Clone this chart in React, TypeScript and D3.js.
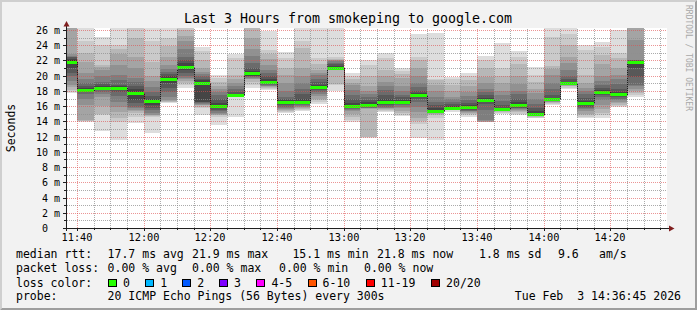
import React from "react";
import * as d3 from "d3";

const W = 697;
const H = 310;

const chartTitle = "Last 3 Hours from smokeping to google.com";
const yAxisLabel = "Seconds";
const watermark = "RRDTOOL / TOBI OETIKER";
const startTime = "11:37";
const endTime = "14:37";

const barEndTimes = [
  "11:40", "11:45", "11:50", "11:55", "12:00", "12:05", "12:10", "12:15", "12:20", "12:25",
  "12:30", "12:35", "12:40", "12:45", "12:50", "12:55", "13:00", "13:05", "13:10", "13:15",
  "13:20", "13:25", "13:30", "13:35", "13:40", "13:45", "13:50", "13:55", "14:00", "14:05",
  "14:10", "14:15", "14:20", "14:25", "14:30",
];

const medianRtt = [
  21.84, 18.12, 18.38, 18.38, 17.73, 16.68, 19.57, 21.14, 19.04, 16.06,
  17.46, 20.35, 19.21, 16.55, 16.6, 18.51, 21.05, 16.06, 16.15, 16.55,
  16.55, 17.46, 15.32, 15.81, 15.85, 16.85, 15.63, 16.15, 15.02, 16.94,
  19.04, 16.41, 17.9, 17.64, 21.84,
];

// 20 sorted ping times (ms) for each 5-minute step
const pingSamples = [
  [17.7, 17.9, 18.1, 18.5, 18.8, 19.3, 19.9, 20.3, 21.0, 21.7, 22.0, 22.2, 22.4, 22.5, 22.6, 22.8, 27, 28, 29, 30],
  [13.95, 14.0, 14.05, 14.2, 16.1, 16.9, 17.6, 17.85, 17.95, 18.05, 18.2, 18.35, 18.6, 19.0, 19.6, 20.4, 21.8, 23.0, 24.5, 27],
  [12.75, 14.8, 15.0, 16.0, 17.2, 17.6, 17.9, 18.1, 18.25, 18.33, 18.43, 18.6, 18.9, 19.2, 20.0, 20.8, 21.2, 21.4, 24.0, 25.1],
  [11.55, 13.95, 14.5, 15.2, 15.9, 16.6, 17.3, 17.9, 18.1, 18.3, 18.45, 18.6, 18.8, 19.4, 20.1, 21.4, 22.9, 23.5, 24.0, 26.5],
  [13.74, 14.6, 15.05, 15.3, 15.5, 15.7, 15.9, 16.4, 16.8, 17.6, 17.85, 18.3, 18.7, 19.2, 19.65, 21.0, 22.5, 24.9, 26.4, 27],
  [12.43, 14.6, 14.7, 14.8, 14.9, 15.1, 15.5, 15.8, 16.2, 16.6, 16.75, 17.0, 17.3, 17.9, 18.5, 19.3, 19.9, 21.8, 24.5, 26.5],
  [16.4, 16.5, 16.6, 16.7, 16.8, 17.2, 17.8, 18.4, 19.0, 19.5, 19.65, 19.9, 20.2, 20.5, 20.9, 21.4, 22.5, 23.9, 25.0, 26.3],
  [18.34, 18.8, 19.0, 19.3, 19.5, 19.65, 20.0, 20.4, 20.8, 21.0, 21.25, 21.6, 22.0, 22.5, 23.5, 24.5, 25.2, 26.0, 26.5, 27.5],
  [14.84, 15.7, 15.9, 16.1, 16.2, 16.3, 16.4, 16.5, 16.6, 18.95, 19.13, 19.4, 19.6, 19.9, 20.2, 20.5, 21.0, 22.0, 23.2, 23.7],
  [13.52, 14.6, 14.8, 14.9, 15.0, 15.1, 15.3, 15.5, 15.8, 16.0, 16.12, 16.4, 17.0, 17.5, 17.9, 18.2, 18.7, 19.2, 19.7, 20.1],
  [14.62, 17.3, 17.35, 17.38, 17.4, 17.42, 17.43, 17.44, 17.45, 17.45, 17.47, 17.6, 17.9, 18.3, 18.6, 19.0, 19.5, 20.1, 22.3, 22.8],
  [18.34, 18.8, 19.2, 19.5, 19.6, 19.7, 19.8, 19.9, 20.0, 20.25, 20.45, 20.6, 21.0, 21.6, 22.6, 23.5, 24.9, 26.3, 26.6, 27],
  [18.1, 18.3, 18.4, 18.5, 18.6, 18.7, 18.8, 18.9, 19.0, 19.15, 19.27, 19.6, 19.9, 20.3, 20.8, 21.4, 22.2, 22.9, 23.4, 25.9],
  [15.06, 15.2, 15.3, 15.5, 15.6, 15.7, 15.9, 16.1, 16.3, 16.5, 16.6, 16.8, 17.0, 17.25, 18.0, 19.0, 20.1, 21.0, 22.3, 23.15],
  [15.4, 15.5, 15.6, 15.8, 15.9, 16.0, 16.2, 16.3, 16.4, 16.55, 16.65, 17.0, 17.6, 18.2, 19.0, 19.9, 21.0, 23.6, 24.6, 27],
  [16.3, 16.6, 16.8, 17.0, 17.3, 17.6, 17.9, 18.1, 18.3, 18.45, 18.57, 18.8, 19.2, 19.6, 20.1, 20.4, 20.75, 21.5, 22.3, 26.3],
  [17.95, 18.8, 18.85, 20.8, 20.85, 20.9, 20.93, 20.96, 20.98, 21.0, 21.1, 21.3, 21.5, 21.7, 21.9, 22.0, 22.1, 22.2, 22.4, 26.3],
  [13.96, 14.2, 14.6, 15.0, 15.3, 15.5, 15.6, 15.7, 15.8, 16.0, 16.12, 16.4, 16.9, 17.5, 18.1, 18.8, 19.0, 19.5, 19.9, 20.3],
  [11.85, 11.95, 12.0, 15.6, 15.7, 15.75, 15.8, 15.9, 16.0, 16.1, 16.2, 16.5, 16.8, 17.2, 17.6, 18.0, 18.6, 20.0, 21.4, 22.05],
  [15.28, 15.4, 15.5, 15.6, 15.7, 15.8, 15.9, 16.1, 16.3, 16.5, 16.6, 17.0, 17.5, 18.1, 18.6, 19.2, 20.0, 20.75, 22.3, 22.94],
  [14.7, 14.9, 15.1, 15.4, 15.7, 15.9, 16.1, 16.3, 16.45, 16.5, 16.6, 16.8, 17.2, 17.46, 18.0, 18.7, 19.65, 20.2, 20.6, 20.97],
  [11.8, 13.7, 14.0, 14.4, 15.2, 15.9, 16.5, 17.0, 17.3, 17.4, 17.52, 17.7, 18.0, 18.5, 19.0, 20.0, 21.0, 22.0, 22.5, 25.5],
  [11.55, 14.5, 14.8, 15.0, 15.1, 15.15, 15.2, 15.25, 15.28, 15.3, 15.35, 15.7, 16.1, 16.6, 17.2, 18.0, 18.8, 19.4, 19.6, 25.56],
  [15.27, 15.45, 15.55, 15.6, 15.65, 15.7, 15.72, 15.75, 15.78, 15.8, 15.82, 16.0, 16.3, 16.6, 17.0, 17.25, 18.0, 18.8, 19.6, 19.87],
  [14.6, 14.8, 15.0, 15.1, 15.2, 15.3, 15.4, 15.5, 15.65, 15.8, 15.9, 16.1, 16.4, 16.8, 17.3, 17.8, 18.6, 19.4, 19.9, 20.3],
  [13.87, 13.9, 13.92, 13.95, 14.0, 14.2, 15.5, 16.3, 16.7, 16.8, 16.9, 17.1, 17.5, 17.8, 18.3, 19.0, 19.8, 21.0, 22.0, 22.6],
  [15.0, 15.1, 15.2, 15.3, 15.35, 15.4, 15.45, 15.5, 15.55, 15.6, 15.66, 15.8, 16.2, 16.7, 17.4, 18.0, 19.0, 20.0, 21.0, 24.25],
  [14.84, 15.0, 15.2, 15.4, 15.5, 15.6, 15.7, 15.8, 15.9, 16.05, 16.25, 16.5, 17.0, 17.6, 18.0, 18.9, 20.0, 21.5, 22.5, 23.2],
  [14.4, 14.5, 14.6, 14.7, 14.75, 14.8, 14.85, 14.9, 14.95, 15.0, 15.05, 15.3, 15.7, 16.3, 17.0, 17.7, 18.3, 19.2, 20.1, 21.2],
  [16.15, 16.3, 16.4, 16.5, 16.6, 16.7, 16.8, 16.85, 16.9, 16.92, 16.96, 17.1, 17.5, 18.2, 19.0, 20.1, 20.9, 21.3, 25.1, 26.3],
  [18.25, 18.4, 18.6, 18.7, 18.8, 18.85, 18.9, 18.95, 19.0, 19.02, 19.06, 19.2, 19.5, 20.0, 20.7, 21.6, 22.5, 24.0, 25.5, 26.3],
  [14.4, 14.6, 14.8, 15.0, 15.3, 15.6, 15.8, 15.9, 16.1, 16.35, 16.47, 16.7, 17.1, 17.6, 18.0, 18.4, 19.0, 20.1, 23.4, 24.03],
  [14.4, 14.8, 15.1, 15.6, 16.2, 16.8, 17.2, 17.5, 17.7, 17.85, 17.95, 18.1, 18.4, 18.8, 19.3, 20.0, 21.5, 22.7, 23.7, 24.47],
  [15.93, 16.0, 16.2, 16.4, 16.6, 16.8, 17.0, 17.2, 17.4, 17.6, 17.68, 17.9, 18.3, 18.9, 19.5, 20.1, 21.0, 22.3, 23.0, 26.0],
  [17.25, 17.5, 17.7, 18.0, 18.3, 18.6, 18.8, 19.8, 21.0, 21.7, 21.98, 21.99, 22.0, 22.05, 22.1, 24.7, 27, 27.5, 28, 28.5],
];

const yMajorTicks = [0, 2, 4, 6, 8, 10, 12, 14, 16, 18, 20, 22, 24, 26];
const yMinorTicks = [1, 3, 5, 7, 9, 11, 13, 15, 17, 19, 21, 23, 25];
const xMajorTicks = ["11:40", "12:00", "12:20", "12:40", "13:00", "13:20", "13:40", "14:00", "14:20"];

const lossLabels = ["0", "1", "2", "3", "4-5", "6-10", "11-19", "20/20"];
const lossColors = ["#26ff00", "#00b8ff", "#0059ff", "#7e00ff", "#ff00ff", "#ff5500", "#ff0000", "#a10000"];

const medianStats = ["17.7 ms avg", "21.9 ms max", "15.1 ms min", "21.8 ms now", "1.8 ms sd", "9.6", "am/s"];
const lossStats = ["0.00 % avg", "0.00 % max", "0.00 % min", "0.00 % now"];
const probeText = "20 ICMP Echo Pings (56 Bytes) every 300s";
const stampText = "Tue Feb  3 14:36:45 2026";

// layout
const CX0 = 67, CX1 = 667, CY0 = 28, CY1 = 228;
const MONO = "'DejaVu Sans Mono', monospace";
const medianStatX = [107.6, 192, 292.4, 377, 479, 558, 599];
const lossStatX = [107.6, 192, 279, 364];
const swatchX = [108, 145.3, 182.2, 219.1, 256.4, 307.6, 365.8, 431.1];

export default function App() {
  const parse = d3.timeParse("%H:%M");
  const t0 = parse(startTime)!;
  const t1 = parse(endTime)!;
  const x = d3.scaleTime().domain([t0, t1]).range([CX0, CX1]);
  const y = d3.scaleLinear().domain([0, 26.26]).range([CY1, CY0]);
  const px = (t: Date) => Math.round(x(t));
  const py = (v: number) => Math.round(y(v));

  const minorTimes = d3.timeMinute.every(5)!.range(t0, t1);
  const majorSet = new Set(xMajorTicks);
  const fmt = d3.timeFormat("%H:%M");

  const bars = barEndTimes.map((te, i) => {
    const tEnd = parse(te)!;
    const tStart = d3.timeMinute.offset(tEnd, -5);
    return { x0: Math.max(CX0, px(tStart)), x1: px(tEnd), pings: pingSamples[i], med: medianRtt[i] };
  });

  const medPts: [number, number][] = [];
  bars.forEach((b) => {
    const ym = py(b.med) + 0.5;
    medPts.push([b.x0, ym], [b.x1, ym]);
  });
  const medPath = d3.line()(medPts) || "";

  // dotted grid paths (1px on / 1px off), built dot by dot
  const dotsH = (vals: number[]) => {
    const p = d3.path();
    vals.forEach((v) => {
      const yy = py(v);
      for (let xx = CX0; xx < CX1; xx += 2) p.rect(xx, yy, 1, 1);
    });
    return p.toString();
  };
  const dotsV = (xs: number[]) => {
    const p = d3.path();
    xs.forEach((xx) => {
      for (let yy = CY1 - 1; yy >= CY0; yy -= 2) p.rect(xx, yy, 1, 1);
    });
    return p.toString();
  };
  const minorXs = minorTimes.filter((t) => !majorSet.has(fmt(t))).map((t) => px(t));
  const majorXs = xMajorTicks.map((s) => px(parse(s)!));

  const gridMinor = "rgba(143,143,143,0.75)";
  const gridMajor = "rgba(222,79,79,0.6)";

  return (
    <svg width={W} height={H} style={{ position: "fixed", left: 0, top: 0, display: "block" }}
      xmlns="http://www.w3.org/2000/svg">
      <defs>
        <clipPath id="canvasClip">
          <rect x={CX0} y={CY0} width={CX1 - CX0} height={CY1 - CY0} />
        </clipPath>
      </defs>
      <rect x={0} y={0} width={W} height={H} fill="#f2f2f2" />
      <polygon points={`0,0 ${W},0 ${W - 2},2 2,2 2,${H - 2} 0,${H}`} fill="#cfcfcf" />
      <polygon points={`${W},0 ${W},${H} 0,${H} 2,${H - 2} ${W - 2},${H - 2} ${W - 2},2`} fill="#9e9e9e" />
      <rect x={CX0} y={CY0} width={CX1 - CX0} height={CY1 - CY0} fill="#ffffff" />

      <g clipPath="url(#canvasClip)" shapeRendering="crispEdges">
        {bars.map((b, i) => (
          <g key={i}>
            {d3.range(1, 11).map((ib) => {
              const lo = b.pings[ib - 1];
              const hi = b.pings[20 - ib];
              const g = 19 * (10 - ib) + 50;
              const yt = py(hi);
              const yb = py(lo);
              return (
                <rect key={ib} x={b.x0} width={b.x1 - b.x0} y={yt} height={Math.max(0, yb - yt)}
                  fill={`rgb(${g},${g},${g})`} />
              );
            })}
          </g>
        ))}
        <path d={medPath} fill="none" stroke="#202020" strokeWidth={1} />
        {bars.map((b, i) => (
          <rect key={"m" + i} x={b.x0} width={b.x1 - b.x0} y={py(b.med) - 1} height={2.5} fill={lossColors[0]} />
        ))}
      </g>

      {/* grid */}
      <g shapeRendering="crispEdges">
        <path d={dotsH(yMinorTicks)} fill={gridMinor} />
        <path d={dotsV(minorXs)} fill={gridMinor} />
        <path d={dotsH(yMajorTicks.filter((v) => v > 0))} fill={gridMajor} />
        <path d={dotsV(majorXs)} fill={gridMajor} />
      </g>

      {/* axes */}
      <g shapeRendering="crispEdges" stroke="#1f1f1f">
        <line x1={64} x2={670} y1={CY1 + 0.5} y2={CY1 + 0.5} />
        <line x1={CX0 - 0.5} x2={CX0 - 0.5} y1={CY1 + 3} y2={24} />
        {yMajorTicks.map((v) => (
          <line key={"yt" + v} x1={63} x2={66} y1={py(v) + 0.5} y2={py(v) + 0.5} />
        ))}
        {yMinorTicks.map((v) => (
          <line key={"yt2" + v} x1={64} x2={66} y1={py(v) + 0.5} y2={py(v) + 0.5} />
        ))}
        {minorTimes.map((t, i) => (
          <line key={"xt" + i} x1={px(t) + 0.5} x2={px(t) + 0.5} y1={CY1} y2={majorSet.has(fmt(t)) ? CY1 + 3 : CY1 + 2} />
        ))}
      </g>
      <polygon points={`669,225.5 674.5,228.5 669,231.5`} fill="#801f1f" />
      <polygon points={`63.5,26.5 66.5,21 69.5,26.5`} fill="#801f1f" />

      {/* title */}
      <text x={348} y={23} textAnchor="middle" fontFamily={MONO} fontSize={13.3} fill="#000">{chartTitle}</text>

      {/* y tick labels */}
      {yMajorTicks.map((v) => (
        <text key={"yl" + v} x={v === 0 ? 48 : 60} y={py(v) + 3.6} textAnchor="end" fontFamily={MONO} fontSize={10} fill="#000">
          {v === 0 ? "0" : `${v} m`}
        </text>
      ))}
      {/* x tick labels */}
      {xMajorTicks.map((s) => (
        <text key={"xl" + s} x={px(parse(s)!)} y={241} textAnchor="middle" fontFamily={MONO} fontSize={10.3} fill="#000">{s}</text>
      ))}

      <text transform="translate(10.5,128) rotate(-90)" textAnchor="middle" dominantBaseline="central"
        fontFamily={MONO} fontSize={11.5} fill="#000">{yAxisLabel}</text>

      <text transform="translate(688.5,5) rotate(90)" textAnchor="start" dominantBaseline="central"
        fontFamily={MONO} fontSize={8} fill="#a8a8a8">{watermark}</text>

      {/* legend */}
      <g fontFamily={MONO} fontSize={11.5} fill="#000" style={{ whiteSpace: "pre" }}>
        <text x={16} y={258}>median rtt:</text>
        {medianStats.map((s, i) => (
          <text key={"ms" + i} x={medianStatX[i]} y={258}>{s}</text>
        ))}
        <text x={16} y={272}>packet loss:</text>
        {lossStats.map((s, i) => (
          <text key={"ls" + i} x={lossStatX[i]} y={272}>{s}</text>
        ))}
        <text x={16} y={286.5}>loss color:</text>
        {lossLabels.map((s, i) => (
          <g key={"lc" + i}>
            <rect x={swatchX[i] + 0.5} y={279.5} width={8} height={7} fill={lossColors[i]} stroke="#000" strokeWidth={1} shapeRendering="crispEdges" />
            <text x={swatchX[i] + 15} y={286.5}>{s}</text>
          </g>
        ))}
        <text x={16} y={300}>probe:</text>
        <text x={107.6} y={300}>{probeText}</text>
        <text x={681} y={300} textAnchor="end" xmlSpace="preserve">{stampText}</text>
      </g>
    </svg>
  );
}
